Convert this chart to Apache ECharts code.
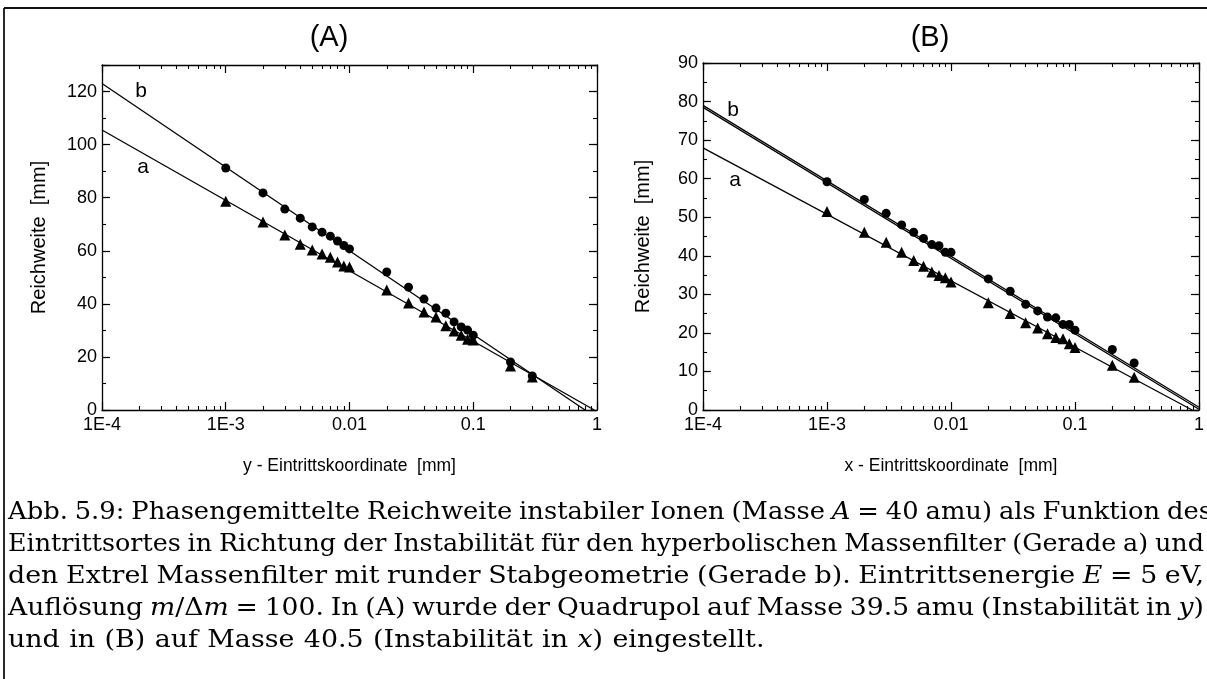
<!DOCTYPE html>
<html>
<head>
<meta charset="utf-8">
<script src="https://cdn.jsdelivr.net/npm/echarts@6/dist/echarts.min.js"></script>
<style>
html,body{margin:0;padding:0;background:#fff;}
#chart{width:1207px;height:679px;}
</style>
</head>
<body>
<div id="chart"></div>
<script>
// ---------- data ----------
const xValues = [0.001,0.002,0.003,0.004,0.005,0.006,0.007,0.008,0.009,0.01,0.02,0.03,0.04,0.05,0.06,0.07,0.08,0.09,0.1,0.2,0.3];
// Panel A (y - Eintrittskoordinate)
const panelA_b = [91.2,81.8,75.7,72.3,69.0,67.0,65.5,63.7,62.0,60.7,52.0,46.3,41.8,38.4,36.5,33.2,31.3,30.1,28.2,18.1,12.8];
const panelA_a = [78.7,70.8,65.9,62.5,60.3,58.8,57.6,55.8,54.3,53.9,45.2,40.3,36.9,35.0,31.7,29.8,28.2,26.7,26.4,16.6,12.4];
// Panel B (x - Eintrittskoordinate)
const panelB_b = [59.2,54.6,51.0,48.0,46.1,44.5,42.9,42.6,40.9,40.9,34.0,30.8,27.4,25.7,24.1,23.9,22.2,22.2,20.7,15.7,12.2];
const panelB_a = [51.5,46.1,43.5,40.9,38.8,37.3,35.8,34.9,34.3,33.2,27.8,25.0,22.6,21.3,19.8,18.8,18.5,17.2,16.2,11.6,8.5];
// fitted straight lines (Gerade a / b), endpoints
const fitA_a = [[1e-4,105.5],[0.95,0]];
const fitA_b = [[1e-4,123.0],[0.80,0]];
const fitB_a = [[1e-4,68.0],[0.88,0]];
const fitB_b1 = [[1e-4,79.0],[1,0.7]];
const fitB_b2 = [[1e-4,78.5],[1,0.2]];
// ticks
const xTickValues = [1e-4,1e-3,0.01,0.1,1];
const xTickLabels = ['1E-4','1E-3','0.01','0.1','1'];
const minorMultipliers = [2,3,4,5,6,7,8,9];
const yMaxA = 130, yIntervalA = 20;
const yMaxB = 90, yIntervalB = 10;
const panelTitles = ['(A)','(B)'];
const xNames = ['y - Eintrittskoordinate  [mm]','x - Eintrittskoordinate  [mm]'];
const yName = 'Reichweite  [mm]';
const captionLines = [
  'Abb. 5.9: Phasengemittelte Reichweite instabiler Ionen (Masse {A} = 40 amu) als Funktion des',
  'Eintrittsortes in Richtung der Instabilität für den hyperbolischen Massenfilter (Gerade a) und',
  'den Extrel Massenfilter mit runder Stabgeometrie (Gerade b).  Eintrittsenergie {E} = 5 eV,',
  'Auflösung {m}/Δ{m} = 100. In (A) wurde der Quadrupol auf Masse 39.5 amu (Instabilität in {y})',
  'und in (B) auf Masse 40.5 (Instabilität in {x}) eingestellt.'
];

// ---------- helpers ----------
const SANS = 'Liberation Sans';
const minorLog = [];
xTickValues.slice(0,-1).forEach(d => minorMultipliers.forEach(m => minorLog.push(Math.log10(d*m))));

function fmtX(v){
  for (let i=0;i<xTickValues.length;i++){
    if (Math.abs(Math.log10(v)-Math.log10(xTickValues[i]))<1e-6) return xTickLabels[i];
  }
  return '';
}
const lineStyle = {color:'#000', width:1.3};
function xAxesFor(gi, name){
  const common = {gridIndex:gi, type:'log', logBase:10, min:1e-4, max:1, splitNumber:4,
    splitLine:{show:false}, axisLine:{onZero:false, lineStyle:lineStyle}};
  const minorCommon = {gridIndex:gi, type:'value', min:-4, max:0, splitLine:{show:false},
    axisLine:{show:false, onZero:false}, axisLabel:{show:false},
    axisTick:{inside:true, length:4, lineStyle:{color:'#000', width:1.1}, customValues:minorLog}};
  return [
    Object.assign({}, common, {position:'bottom',
      axisTick:{inside:true, length:8, lineStyle:{color:'#000', width:1.2}},
      axisLabel:{formatter:fmtX, color:'#000', fontSize:18, fontFamily:SANS, margin:6},
      name:name, nameLocation:'middle', nameGap:47,
      nameTextStyle:{color:'#000', fontSize:17.5, fontFamily:SANS}}),
    Object.assign({}, common, {position:'top',
      axisTick:{inside:true, length:8, lineStyle:{color:'#000', width:1.2}}, axisLabel:{show:false}}),
    Object.assign({}, minorCommon, {position:'bottom'}),
    Object.assign({}, minorCommon, {position:'top'})
  ];
}
function yAxesFor(gi, max, interval, nameGap){
  const common = {gridIndex:gi, type:'value', min:0, max:max, splitLine:{show:false},
    axisLine:{onZero:false, lineStyle:lineStyle}};
  return [
    Object.assign({}, common, {position:'left', interval:interval,
      axisTick:{inside:true, length:8, lineStyle:{color:'#000', width:1.2}},
      axisLabel:{color:'#000', fontSize:18, fontFamily:SANS, margin:5,
        formatter: v => (v % interval === 0 ? String(v) : '')},
      name:yName, nameLocation:'middle', nameGap:nameGap,
      nameTextStyle:{color:'#000', fontSize:20, fontFamily:SANS}}),
    Object.assign({}, common, {position:'right', interval:interval,
      axisTick:{inside:true, length:8, lineStyle:{color:'#000', width:1.2}}, axisLabel:{show:false}}),
    Object.assign({}, common, {position:'left', interval:interval/2, axisLine:{show:false, onZero:false},
      axisTick:{inside:true, length:4, lineStyle:{color:'#000', width:1.1}}, axisLabel:{show:false}}),
    Object.assign({}, common, {position:'right', interval:interval/2, axisLine:{show:false, onZero:false},
      axisTick:{inside:true, length:4, lineStyle:{color:'#000', width:1.1}}, axisLabel:{show:false}})
  ];
}
function pts(arr){ return xValues.map((x,i)=>[x, arr[i]]); }
function scatter(ax, arr, symbol, size){
  return {type:'scatter', xAxisIndex:ax, yAxisIndex:ax, data:pts(arr), symbol:symbol, symbolSize:size,
    itemStyle:{color:'#000', opacity:1}, silent:true, z:5};
}
function fit(ax, data, w){
  return {type:'line', xAxisIndex:ax, yAxisIndex:ax, data:data, showSymbol:false, symbol:'none',
    lineStyle:{color:'#000', width:w||1.3}, silent:true, z:4};
}

// ---------- caption (justified lines) ----------
const capFont = 'DejaVu Serif';
const capSize = 24;
const capScale = 1.12;
const capLeft = 8, capRight = 1204, capTop = 513, capLineH = 32;
const mctx = document.createElement('canvas').getContext('2d');
function parseSegs(word){
  const out=[]; const re=/\{([^}]*)\}|([^{]+)/g; let m;
  while((m=re.exec(word))){ if(m[1]!==undefined) out.push({t:m[1], it:true}); else out.push({t:m[2], it:false}); }
  return out;
}
function fontOf(it){ return (it?'italic ':'') + capSize + 'px "' + capFont + '"'; }
function rawW(s){ mctx.font = fontOf(s.it); return mctx.measureText(s.t).width; }
const captionGraphics = [];
captionLines.forEach((line, li) => {
  const words = line.split(' ').filter(w => w.length).map(parseSegs);
  const widths = words.map(ws => ws.reduce((a,s)=>a+rawW(s),0));
  const total = widths.reduce((a,b)=>a+b,0);
  mctx.font = fontOf(false);
  const spaceRaw = mctx.measureText(' ').width;
  const justify = li < captionLines.length-1;
  const right = li === 0 ? capRight + 8 : capRight;
  const avail = right - capLeft;
  let sc = capScale;
  const minGap = spaceRaw*0.9;
  if (total*sc + (words.length-1)*minGap > avail) sc = (avail - (words.length-1)*minGap)/total;
  const gap = justify ? (avail - total*sc)/(words.length-1) : spaceRaw*sc*1.1;
  let x = capLeft;
  const y = capTop + li*capLineH;
  words.forEach(ws => {
    ws.forEach(s => {
      captionGraphics.push({type:'text', x:x, y:y, scaleX:sc,
        style:{text:s.t, font:fontOf(s.it), fill:'#000', verticalAlign:'middle'}});
      x += rawW(s)*sc;
    });
    x += gap;
  });
});

// ---------- chart ----------
const chart = echarts.init(document.getElementById('chart'), null, {renderer:'canvas'});
const titleStyle = {fontSize:29, fontWeight:'normal', color:'#000', fontFamily:SANS};
const labelFont = '21px "Liberation Sans"';
const option = {
  backgroundColor:'#fff',
  animation:false,
  grid:[
    {left:102, top:65, width:495, height:345, containLabel:false},
    {left:703, top:63, width:497, height:347, containLabel:false}
  ],
  title:[
    {text:panelTitles[0], left:324, top:18, textAlign:'center', textStyle:titleStyle},
    {text:panelTitles[1], left:925, top:18, textAlign:'center', textStyle:titleStyle}
  ],
  xAxis: xAxesFor(0, xNames[0]).concat(xAxesFor(1, xNames[1])),
  yAxis: yAxesFor(0, yMaxA, yIntervalA, 53).concat(yAxesFor(1, yMaxB, yIntervalB, 50)),
  series:[
    fit(0, fitA_a), fit(0, fitA_b),
    scatter(0, panelA_b, 'circle', 9), scatter(0, panelA_a, 'triangle', 11),
    fit(4, fitB_a), fit(4, fitB_b1, 1.3), fit(4, fitB_b2, 1.3),
    scatter(4, panelB_b, 'circle', 9), scatter(4, panelB_a, 'triangle', 11)
  ],
  graphic:[
    {type:'line', shape:{x1:4, y1:8, x2:1210, y2:8}, style:{stroke:'#111', lineWidth:1.8}},
    {type:'line', shape:{x1:4, y1:8, x2:4, y2:690}, style:{stroke:'#111', lineWidth:1.8}},
    {type:'text', x:141, y:91, style:{text:'b', font:labelFont, fill:'#000', align:'center', verticalAlign:'middle'}},
    {type:'text', x:143, y:167, style:{text:'a', font:labelFont, fill:'#000', align:'center', verticalAlign:'middle'}},
    {type:'text', x:733, y:110, style:{text:'b', font:labelFont, fill:'#000', align:'center', verticalAlign:'middle'}},
    {type:'text', x:735, y:180, style:{text:'a', font:labelFont, fill:'#000', align:'center', verticalAlign:'middle'}}
  ].concat(captionGraphics)
};
chart.setOption(option);
</script>
</body>
</html>
